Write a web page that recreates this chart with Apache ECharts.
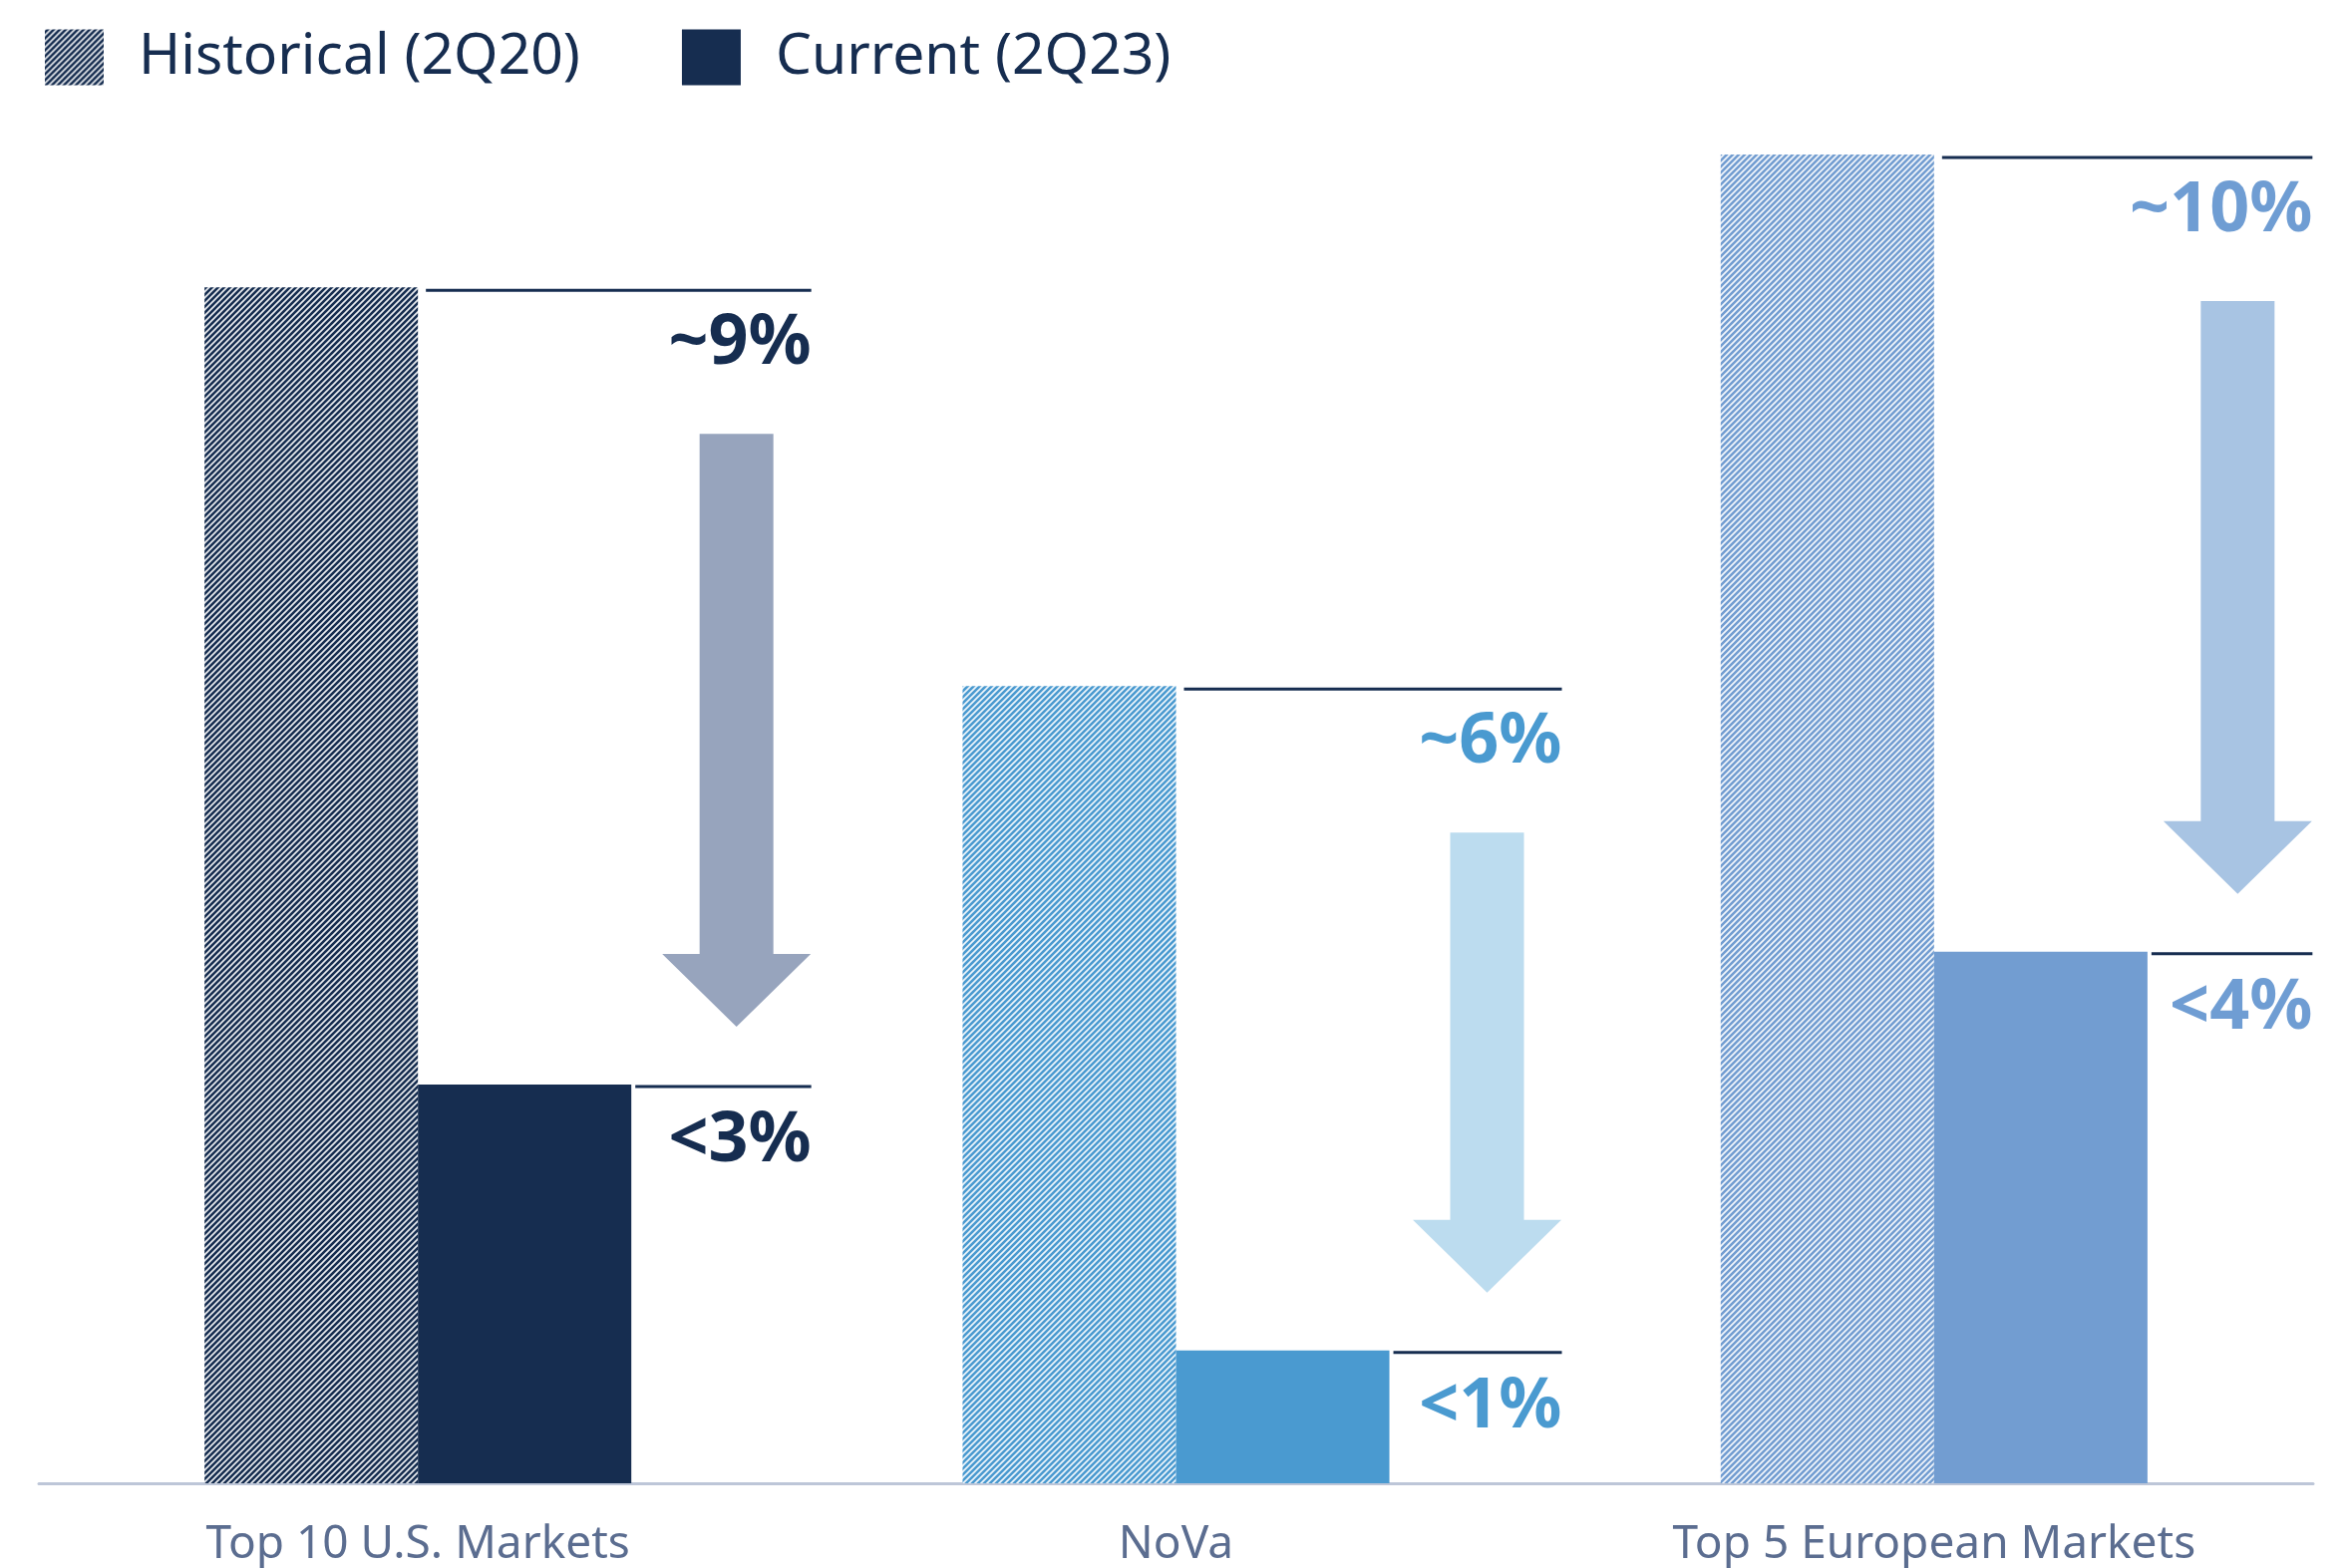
<!DOCTYPE html>
<html>
<head>
<meta charset="utf-8">
<script src="https://cdn.jsdelivr.net/npm/echarts@6/dist/echarts.min.js"></script>
<style>
html,body{margin:0;padding:0;background:#fff;}
#chart{width:2358px;height:1573px;}
</style>
</head>
<body>
<div id="chart"></div>
<script>
// ---- data ----
const categories = ['Top 10 U.S. Markets', 'NoVa', 'Top 5 European Markets'];
const historical = [9, 6, 10];
const current = [3, 1, 4];
const histLabels = ['~9%', '~6%', '~10%'];
const currentLabels = ['<3%', '<1%', '<4%'];
const seriesNames = ['Historical (2Q20)', 'Current (2Q23)'];

// ---- styles ----
const NAVY = '#162D50';
const barColors = ['#162D50', '#4A9AD0', '#729DD1'];
const labelColors = ['#162D50', '#4A9AD0', '#6F9DD3'];
const arrowColors = ['#97A4BD', '#BCDCEF', '#A8C4E3'];
const FONT = '"Noto Sans", "Open Sans", sans-serif';
const CAT_GAP = 0.437;

function hatch(base) {
  const s = 6;
  const c = document.createElement('canvas');
  c.width = s; c.height = s;
  const ctx = c.getContext('2d');
  ctx.fillStyle = base;
  ctx.fillRect(0, 0, s, s);
  ctx.strokeStyle = 'rgba(255,255,255,0.9)';
  ctx.lineWidth = 1.7;
  ctx.beginPath();
  ctx.moveTo(-1, s + 1); ctx.lineTo(s + 1, -1);
  ctx.moveTo(-1, 1); ctx.lineTo(1, -1);
  ctx.moveTo(s - 1, s + 1); ctx.lineTo(s + 1, s - 1);
  ctx.stroke();
  return { image: c, repeat: 'repeat' };
}

const chart = echarts.init(document.getElementById('chart'), null, { renderer: 'canvas' });

const annotData = categories.map((c, i) => [i, historical[i], current[i]]);

function renderAnnot(params, api) {
  const i = params.dataIndex;
  const cat = api.value(0), h = api.value(1), cu = api.value(2);
  const ph = api.coord([cat, h]);
  const pc = api.coord([cat, cu]);
  const band = api.size([1, 0])[0];
  const barW = band * (1 - CAT_GAP) / 2;
  const cx = ph[0];
  const right = cx + band * 0.509 + (1 - cat) * 7.5;
  const yh = ph[1] + 3;
  const yc = pc[1] + 2;
  const ax = right - 75;
  const top = yh + 144;
  const tip = yc - 60;
  const headTop = tip - 73;
  return {
    type: 'group',
    children: [
      { type: 'line', shape: { x1: cx + 8, y1: yh, x2: right, y2: yh }, style: { stroke: NAVY, lineWidth: 3 } },
      { type: 'line', shape: { x1: cx + barW + 4, y1: yc, x2: right, y2: yc }, style: { stroke: NAVY, lineWidth: 3 } },
      { type: 'polygon', shape: { points: [
          [ax - 37, top], [ax + 37, top], [ax + 37, headTop], [ax + 74.5, headTop],
          [ax, tip], [ax - 74.5, headTop], [ax - 37, headTop]
        ] }, style: { fill: arrowColors[i] } },
      { type: 'text', style: { text: histLabels[i], x: right, y: yh + 54, align: 'right', verticalAlign: 'middle',
          font: 'bold 70px ' + FONT, fill: labelColors[i] } },
      { type: 'text', style: { text: currentLabels[i], x: right, y: yc + 55, align: 'right', verticalAlign: 'middle',
          font: 'bold 70px ' + FONT, fill: labelColors[i] } }
    ]
  };
}

const option = {
  animation: false,
  backgroundColor: '#fff',
  legend: {
    data: seriesNames,
    left: 40, top: 24,
    icon: 'rect',
    itemWidth: 59, itemHeight: 56,
    itemGap: 102,
    textStyle: { fontSize: 57, color: NAVY, fontFamily: FONT, padding: [0, 0, 0, 30] },
    selectedMode: false
  },
  grid: { left: 39, right: 38, top: 155, bottom: 85, containLabel: false },
  xAxis: {
    type: 'category',
    data: categories,
    axisLine: { lineStyle: { color: '#BDC6D8', width: 3 } },
    axisTick: { show: false },
    axisLabel: { fontSize: 46, color: '#5B6D90', fontFamily: FONT, margin: 39 }
  },
  yAxis: { type: 'value', min: 0, max: 10, show: false },
  series: [
    {
      name: seriesNames[0], type: 'bar', barGap: 0, barCategoryGap: (CAT_GAP * 100) + '%',
      itemStyle: { color: hatch(NAVY) },
      data: historical.map((v, i) => ({ value: v, itemStyle: { color: hatch(barColors[i]) } }))
    },
    {
      name: seriesNames[1], type: 'bar', barGap: 0, barCategoryGap: (CAT_GAP * 100) + '%',
      itemStyle: { color: NAVY },
      data: current.map((v, i) => ({ value: v, itemStyle: { color: barColors[i] } }))
    },
    {
      type: 'custom', name: 'annot', renderItem: renderAnnot, data: annotData,
      encode: { x: 0, y: [1, 2] }, z: 5, silent: true
    }
  ]
};
chart.setOption(option);
</script>
</body>
</html>
